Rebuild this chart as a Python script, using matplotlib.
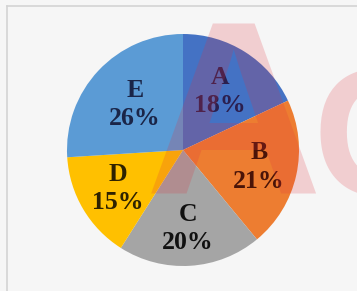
import matplotlib
matplotlib.use("Agg")
import matplotlib.pyplot as plt
import numpy as np
from matplotlib.lines import Line2D

categories = ["A", "B", "C", "D", "E"]
values = [18, 21, 20, 15, 26]
colors = ["#4472C4", "#ED7D31", "#A5A5A5", "#FFC000", "#5B9BD5"]
text_colors = ["#2b1f4f", "#4a1408", "#111111", "#2e2200", "#1a2548"]
label_radius = [0.60, 0.67, 0.68, 0.65, 0.57]

W, H = 357, 291
fig = plt.figure(figsize=(W / 100, H / 100), dpi=100)
fig.patch.set_facecolor("#f6f6f6")

cx, cy, R = 183, 150, 116
ax = fig.add_axes([(cx - R) / W, (H - cy - R) / H, 2 * R / W, 2 * R / H])
wedges, _ = ax.pie(values, colors=colors, startangle=90, counterclock=False,
                   wedgeprops=dict(linewidth=0))
ax.set_xlim(-1, 1)
ax.set_ylim(-1, 1)
ax.set_aspect("equal")
ax.axis("off")

for w, cat, v, tc, r in zip(wedges, categories, values, text_colors, label_radius):
    ang = np.deg2rad((w.theta1 + w.theta2) / 2)
    ax.text(r * np.cos(ang), r * np.sin(ang), f"{cat}\n{v}%", ha="center", va="center",
            fontsize=18.5, fontweight="bold", family="Liberation Serif", color=tc,
            linespacing=1.3)

# frame lines
fig.add_artist(Line2D([7 / W, 1], [1 - 6 / H, 1 - 6 / H], color="#d4d4d4", lw=1.2))
fig.add_artist(Line2D([7 / W, 7 / W], [0, 1 - 6 / H], color="#d4d4d4", lw=1.2))

# watermark
fig.text(145 / W, 1 - 193 / H, "A", fontsize=177, fontweight="bold", family="Liberation Sans",
         color="#e0303c", alpha=0.2, ha="left", va="baseline", zorder=10)
fig.text(313 / W, 1 - 195 / H, "C", fontsize=131, fontweight="bold", family="Liberation Sans",
         color="#e0303c", alpha=0.2, ha="left", va="baseline", zorder=10)

fig.savefig("out.png", dpi=100, facecolor=fig.get_facecolor())
